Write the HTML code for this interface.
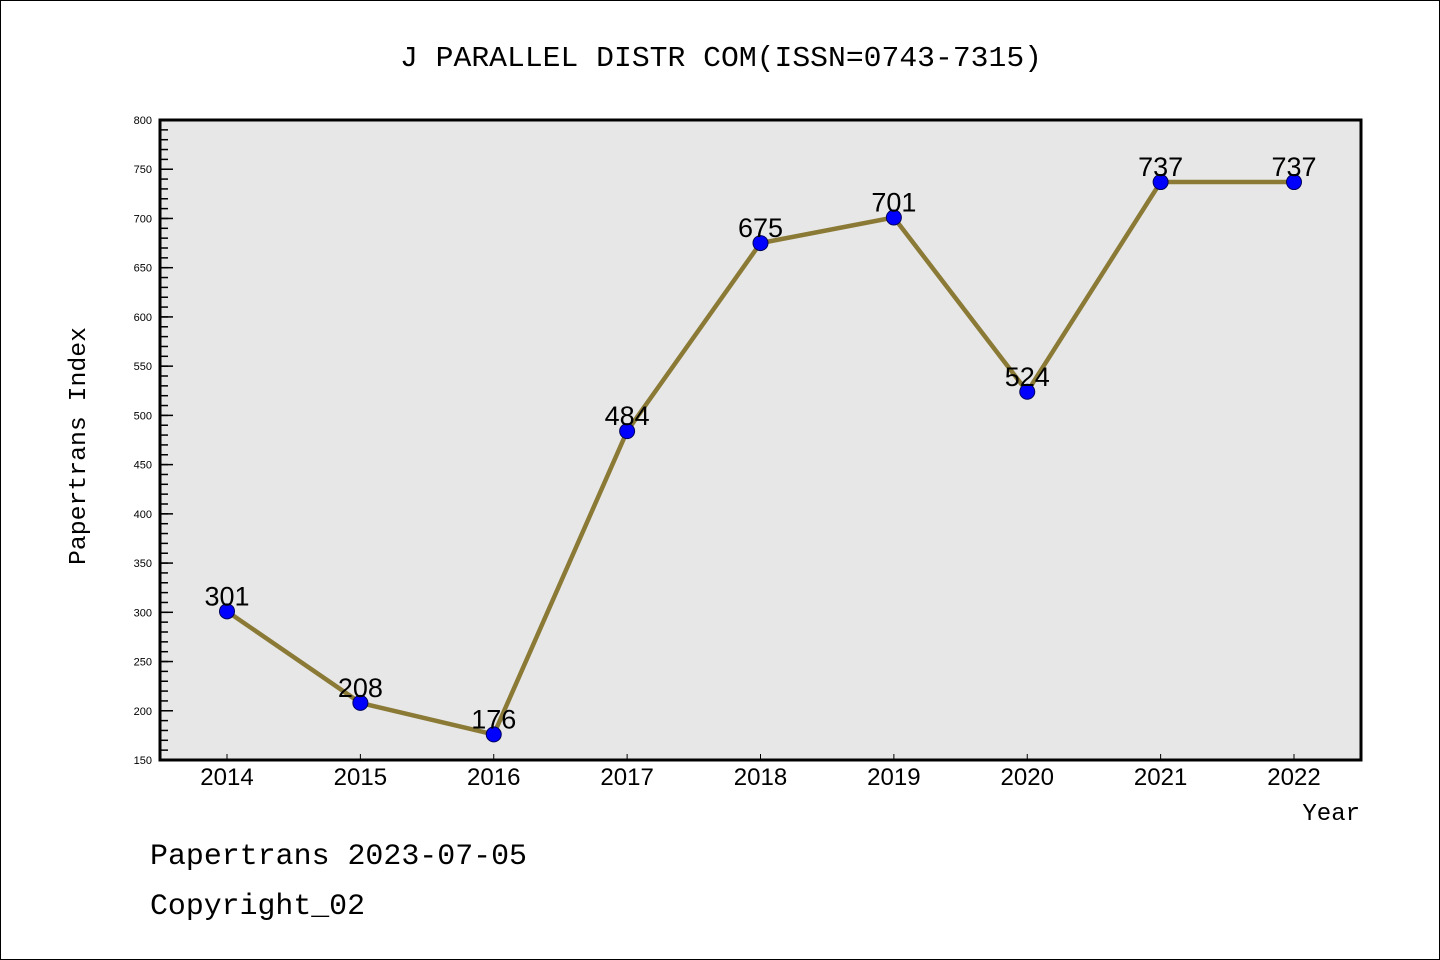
<!DOCTYPE html>
<html><head><meta charset="utf-8"><style>
html,body{margin:0;padding:0;background:#fff}
svg{display:block}
</style></head><body>
<svg width="1440" height="960" viewBox="0 0 1440 960" xmlns="http://www.w3.org/2000/svg">
<rect x="0.5" y="0.5" width="1439" height="959" fill="#fff" stroke="#000" stroke-width="1"/>
<text x="721" y="66" text-anchor="middle" font-family="Liberation Mono, monospace" font-size="29" textLength="642" lengthAdjust="spacingAndGlyphs">J PARALLEL DISTR COM(ISSN=0743-7315)</text>
<rect x="160" y="120" width="1201" height="640" fill="#e7e7e7"/>
<g id="axes"></g>
<g id="series"></g>
<rect x="160" y="120" width="1201" height="640" fill="none" stroke="#000" stroke-width="3"/>
<text x="85" y="446" text-anchor="middle" transform="rotate(-90 85 446)" font-family="Liberation Mono, monospace" font-size="24" textLength="238" lengthAdjust="spacingAndGlyphs">Papertrans Index</text>
<text x="1360" y="820" text-anchor="end" font-family="Liberation Mono, monospace" font-size="24">Year</text>
<text x="150" y="864" font-family="Liberation Mono, monospace" font-size="30" textLength="377" lengthAdjust="spacingAndGlyphs">Papertrans 2023-07-05</text>
<text x="150" y="914" font-family="Liberation Mono, monospace" font-size="30" textLength="215" lengthAdjust="spacingAndGlyphs">Copyright_02</text>
</svg>
<script>
const years = ["2014","2015","2016","2017","2018","2019","2020","2021","2022"];
const values = [301,208,176,484,675,701,524,737,737];
const yTicks = [150,200,250,300,350,400,450,500,550,600,650,700,750,800];
const NS="http://www.w3.org/2000/svg";
const L=160,R=1361,T=120,B=760,yMin=150,yMax=800;
const x0=227,x1=1294;
function xs(i){return x0+(x1-x0)*i/(years.length-1);}
function ys(v){return B-(v-yMin)/(yMax-yMin)*(B-T);}
function mk(tag,attrs,parent){const e=document.createElementNS(NS,tag);for(const k in attrs)e.setAttribute(k,attrs[k]);parent.appendChild(e);return e;}
const ax=document.getElementById('axes'), se=document.getElementById('series');
for(let v=yMin+10; v<yMax; v+=10){
  const t=mk('line',{x1:L,x2:L+8,y1:ys(v),y2:ys(v),stroke:'#000','stroke-width':1.5},ax);
  
  
}
yTicks.forEach(v=>{
  const t=mk('line',{x1:L,x2:L+13,y1:ys(v),y2:ys(v),stroke:'#000','stroke-width':1.5},ax);
  
  
  const l=mk('text',{x:152,y:ys(v)+4,'text-anchor':'end','font-family':'Liberation Sans, sans-serif','font-size':11},ax);
  l.textContent=v;
  
  
});
years.forEach((y,i)=>{
  const t=mk('line',{x1:xs(i),x2:xs(i),y1:B,y2:B-6,stroke:'#000','stroke-width':1},ax);
  
  
  const l=mk('text',{x:xs(i),y:785,'text-anchor':'middle','font-family':'Liberation Sans, sans-serif','font-size':24},ax);
  l.textContent=y;
  
  
});
const line=mk('polyline',{points:values.map((v,i)=>xs(i)+','+ys(v)).join(' '),fill:'none',stroke:'#8b7a36','stroke-width':4.5,'stroke-linejoin':'round'},se);


values.forEach((v,i)=>{
  const c=mk('circle',{cx:xs(i),cy:ys(v),r:7.5,fill:'#0000ff',stroke:'#00005a','stroke-width':1},se);
  
  
  const l=mk('text',{x:xs(i),y:ys(v)-6,'text-anchor':'middle','font-family':'Liberation Sans, sans-serif','font-size':27},se);
  l.textContent=v;
  
  
});
</script>
</body></html>
